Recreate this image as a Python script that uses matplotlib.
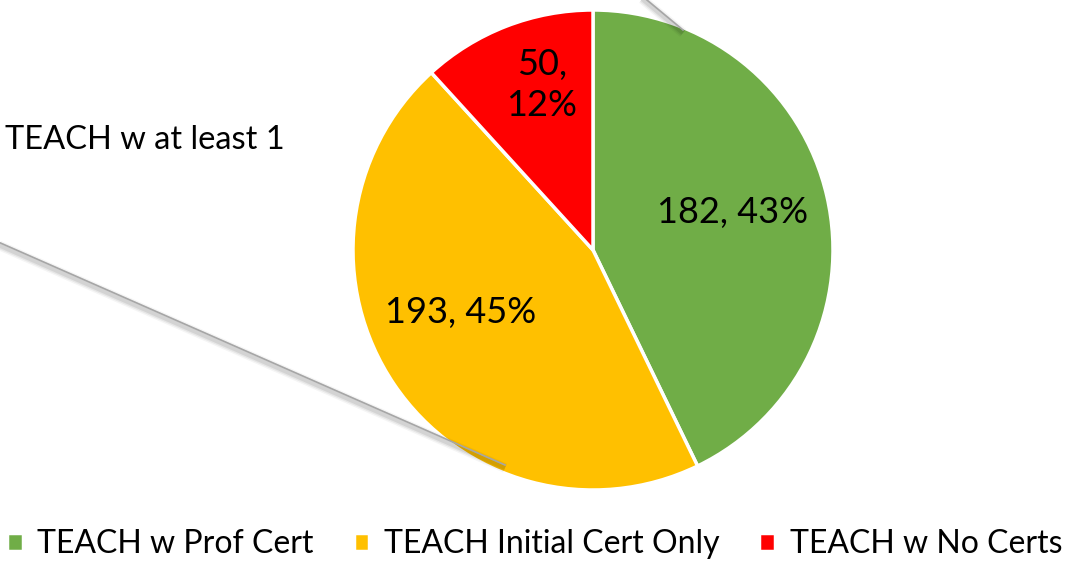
import numpy as np
import matplotlib.pyplot as plt
from matplotlib.lines import Line2D

plt.rcParams['font.family'] = ['Lato', 'DejaVu Sans']

categories = ['TEACH w Prof Cert', 'TEACH Initial Cert Only', 'TEACH w No Certs']
counts = [182, 193, 50]
colors = ['#70AD47', '#FFC000', '#FF0000']
label_dist = [0.60, 0.61, 0.72]
label_shift = [2, -9, -4]   # degrees, Excel "best fit" nudges
side_text = 'TEACH w at least 1'

W, H = 1069, 561
fig = plt.figure(figsize=(W / 100, H / 100), dpi=100)
ax = fig.add_axes([0, 0, 1, 1])

cx, cy, R = 593, 311, 240
wedges, _ = ax.pie(counts, colors=colors, startangle=90, counterclock=False,
                   radius=R, center=(cx, cy), frame=True,
                   wedgeprops=dict(edgecolor='white', linewidth=2.5))
ax.set_xlim(0, W)
ax.set_ylim(0, H)
ax.set_aspect('equal')
ax.axis('off')

total = sum(counts)
for w, n, d, s in zip(wedges, counts, label_dist, label_shift):
    mid = np.deg2rad((w.theta1 + w.theta2) / 2 + s)
    x = cx + d * R * np.cos(mid)
    y = cy + d * R * np.sin(mid)
    pct = round(100 * n / total)
    txt = f'{n},\n{pct}%' if n < 100 else f'{n}, {pct}%'
    ax.text(x, y, txt, ha='center', va='center', fontsize=26,
            linespacing=1.3)

# connector lines from the secondary pie (cropped), with a soft shadow
connectors = [((600, 600), (683, 531)), ((-20, 327), (505, 96))]
for (x0, y0), (x1, y1) in connectors:
    for lw, a in [(7, 0.04), (5, 0.06), (3, 0.08)]:
        ax.add_line(Line2D([x0, x1], [y0 - 3, y1 - 3], color='black',
                           lw=lw, alpha=a, solid_capstyle='butt'))
    ax.add_line(Line2D([x0, x1], [y0, y1], color='#A6A6A6', lw=1.2))

ax.text(5, 421, side_text, ha='left', va='center', fontsize=23.5)

fig.legend(wedges, categories, loc='center', ncol=3, frameon=False,
           fontsize=23, handlelength=0.5, handleheight=0.5,
           handletextpad=0.45, columnspacing=1.25,
           bbox_to_anchor=(0.5, 17 / H))

fig.savefig('out.png', dpi=100)
